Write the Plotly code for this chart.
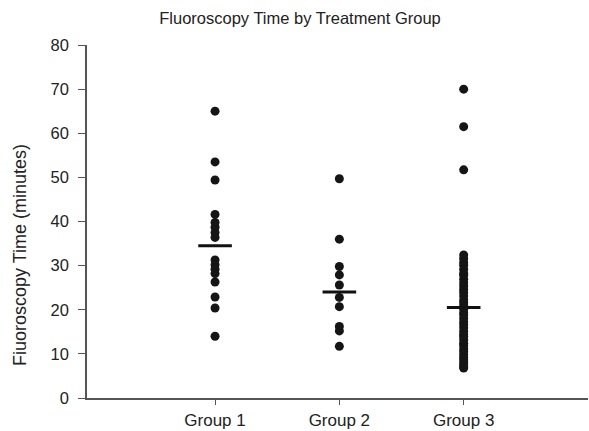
import plotly.graph_objects as go

categories = ["Group 1", "Group 2", "Group 3"]

group1 = [65.0, 53.5, 49.4, 41.6, 39.8, 38.7, 37.5, 36.4, 31.3, 30.2, 29.2,
          28.2, 26.3, 22.9, 20.4, 14.0]
group2 = [49.7, 36.0, 29.8, 27.9, 25.6, 22.8, 20.7, 16.2, 15.2, 11.7]
group3 = [70.0, 61.5, 51.7, 32.4, 31.6, 30.7, 30.1, 29.2, 28.3, 27.8, 26.9,
          26.1, 25.4, 24.6, 23.9, 23.1, 22.2, 21.6, 20.9, 20.1, 19.3, 18.8,
          18.0, 17.2, 16.6, 15.9, 15.1, 14.4, 13.9, 13.2, 12.4, 11.9, 11.1,
          10.5, 9.8, 9.2, 8.6, 8.0, 7.5, 7.0, 6.8]
group_means = [34.5, 24.0, 20.5]

y_ticks = [0, 10, 20, 30, 40, 50, 60, 70, 80]

groups = [group1, group2, group3]

fig = go.Figure()
for cat, vals in zip(categories, groups):
    fig.add_trace(go.Scatter(
        x=[cat] * len(vals), y=vals, mode="markers",
        marker=dict(size=9, color="#151515"),
        showlegend=False, hoverinfo="y"))

fig.add_trace(go.Scatter(
    x=categories, y=group_means, mode="markers",
    marker=dict(symbol="line-ew", size=24,
                line=dict(width=3, color="#111111")),
    showlegend=False, hoverinfo="y"))

font_family = "Liberation Sans, Arial, sans-serif"

fig.update_layout(
    width=589, height=431,
    margin=dict(l=87, r=1, t=45, b=33),
    paper_bgcolor="white", plot_bgcolor="white",
    font=dict(family=font_family, color="#222222", size=16),
    title=dict(text="Fluoroscopy Time by Treatment Group",
               x=300 / 589, xref="container", xanchor="center",
               y=1 - 18 / 431, yref="container", yanchor="middle",
               font=dict(size=16.5, color="#222222")),
    xaxis=dict(type="category", categoryorder="array", categoryarray=categories,
               range=[-1.03, 3.0], showgrid=False, zeroline=False,
               showline=True, linecolor="#555555", linewidth=1.5,
               ticks="outside", ticklen=5, tickcolor="#555555", tickwidth=1,
               ticklabelstandoff=1,
               tickfont=dict(size=17, color="#222222")),
    yaxis=dict(range=[0, 80], tickvals=y_ticks, showgrid=False, zeroline=False,
               showline=True, linecolor="#555555", linewidth=1.5,
               ticks="outside", ticklen=7, tickcolor="#555555", tickwidth=1,
               ticklabelstandoff=6,
               tickfont=dict(size=16.5, color="#222222")),
    annotations=[dict(text="Fiuoroscopy Time (minutes)", textangle=-90,
                      xref="paper", yref="paper",
                      x=(20 - 87) / 501, y=(398 - 255) / 353,
                      xanchor="center", yanchor="middle", showarrow=False,
                      font=dict(size=18, color="#222222"))],
)

fig.write_html(
    "out.html",
    config={"displayModeBar": False},
    post_script="document.body.style.margin='0';"
                "document.body.style.overflow='hidden';",
)
